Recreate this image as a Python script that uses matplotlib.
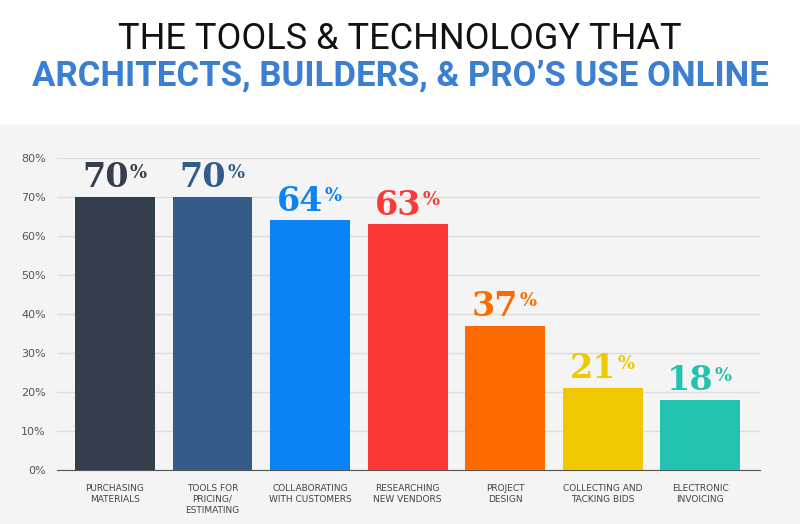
import matplotlib.pyplot as plt
import matplotlib.patches as mpatches

categories = ["PURCHASING\nMATERIALS", "TOOLS FOR\nPRICING/\nESTIMATING", "COLLABORATING\nWITH CUSTOMERS",
              "RESEARCHING\nNEW VENDORS", "PROJECT\nDESIGN", "COLLECTING AND\nTACKING BIDS", "ELECTRONIC\nINVOICING"]
values = [70, 70, 64, 63, 37, 21, 18]
colors = ["#343f4e", "#335c89", "#0a84f5", "#fb3a37", "#ff6a00", "#f0c800", "#22c3b0"]
yticks = [0, 10, 20, 30, 40, 50, 60, 70, 80]

fig = plt.figure(figsize=(8, 5.24), dpi=100)
fig.patch.set_facecolor("white")
fig.add_artist(mpatches.Rectangle((0, 0), 1, 1 - 125/524, transform=fig.transFigure,
                                  color="#f4f4f4", zorder=-10))

fig.text(0.5, 0.925, "THE TOOLS & TECHNOLOGY THAT", ha="center", va="center",
         fontsize=26, family="Roboto", stretch="condensed", color="#111111")
fig.text(0.5, 0.855, "ARCHITECTS, BUILDERS, & PRO\u2019S USE ONLINE", ha="center", va="center",
         fontsize=25, family="Roboto", weight="bold", color="#3b7fd4")

ax = fig.add_axes([57/800, 1 - 470/524, 703/800, 312/524])
ax.set_facecolor("none")
x = range(len(values))
ax.bar(x, values, width=0.82, color=colors, zorder=3)
ax.set_xlim(-0.595, 6.615)
ax.set_ylim(0, 80)
ax.set_yticks(yticks)
ax.set_yticklabels([f"{t}%" for t in yticks], fontsize=8, color="#555555")
ax.set_xticks(list(x))
ax.set_xticklabels(categories, fontsize=6.5, color="#444444", va="top", linespacing=1.3)
ax.tick_params(axis="both", length=0, pad=8)
ax.tick_params(axis="x", pad=10)
ax.grid(axis="y", color="#dddddd", linewidth=1, zorder=0)
for s in ["top", "right", "left"]:
    ax.spines[s].set_visible(False)
ax.spines["bottom"].set_color("#555555")

for i, (v, c) in enumerate(zip(values, colors)):
    ax.annotate(f"{v}", (i, v), xytext=(-7, 2), textcoords="offset points", ha="center", va="bottom",
                fontsize=24, weight="bold", family="DejaVu Serif", color=c)
    ax.annotate("%", (i, v), xytext=(17, 11), textcoords="offset points", ha="center", va="bottom",
                fontsize=13, weight="bold", family="DejaVu Serif", color=c)

plt.savefig("out.png", dpi=100)
